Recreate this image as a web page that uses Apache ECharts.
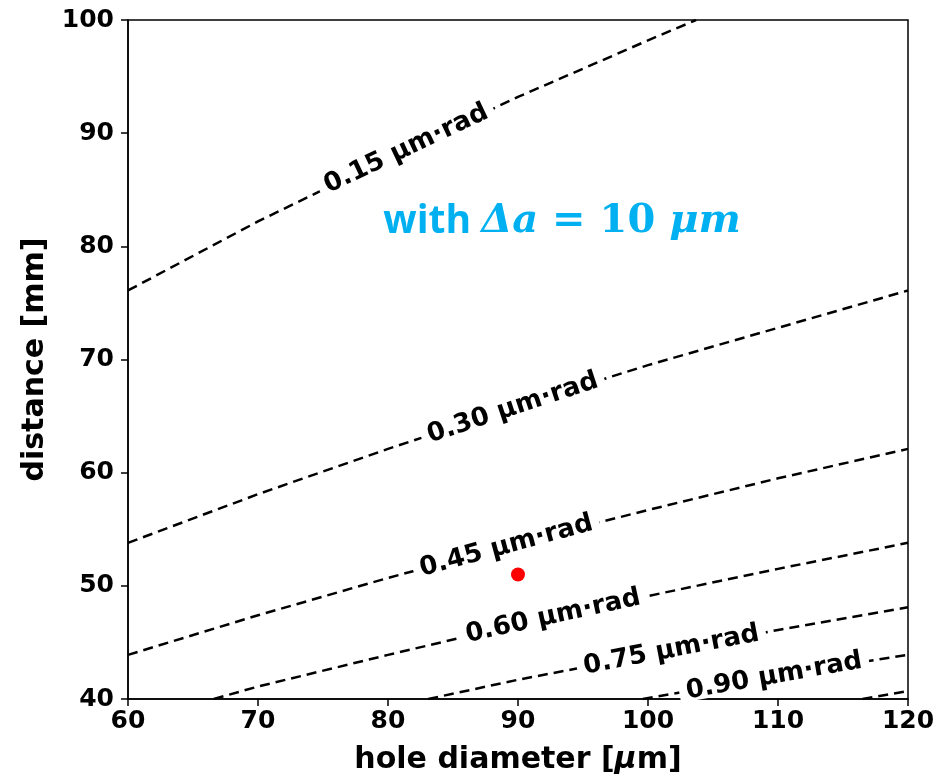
<!DOCTYPE html>
<html>
<head>
<meta charset="utf-8">
<script src="https://cdn.jsdelivr.net/npm/echarts@6/dist/echarts.min.js"></script>
<style>
  html, body { margin: 0; padding: 0; background: #fff; }
  #main { width: 938px; height: 780px; }
</style>
</head>
<body>
<div id="main"></div>
<script>
// contour levels (emittance, µm·rad) and points
const levels = ['0.15', '0.30', '0.45', '0.60', '0.75', '0.90', '1.05'];
const contourHole = [
    [60, 70, 80, 90, 100, 103.7],
    [60, 70, 80, 90, 100, 110, 120],
    [60, 70, 80, 90, 100, 110, 120],
    [66.6, 70, 80, 90, 100, 110, 120],
    [83.1, 90, 100, 110, 120],
    [99.6, 110, 120],
    [116.5, 120]
];
const contourDist = [
    [76.1, 82.2, 87.8, 93.2, 98.2, 100.0],
    [53.8, 58.1, 62.1, 65.9, 69.5, 72.8, 76.1],
    [43.9, 47.4, 50.7, 53.8, 56.7, 59.5, 62.1],
    [40.0, 41.1, 43.9, 46.6, 49.1, 51.5, 53.8],
    [40.0, 41.7, 43.9, 46.1, 48.1],
    [40.0, 42.1, 43.9],
    [40.0, 40.7]
];
// where the inline labels sit
const labelHole = [81.4, 89.6, 89.1, 92.7, 101.8, 109.7];
const labelDist = [88.6, 65.7, 53.5, 47.3, 44.3, 42.0];
// measured point
const pointHole = [90];
const pointDist = [51];

const xTicks = {min: 60, max: 120, interval: 10};
const yTicks = {min: 40, max: 100, interval: 10};

let chart = echarts.init(document.getElementById('main'));

const tickFont = {color: '#000', fontSize: 25, fontWeight: 'bold', fontFamily: 'DejaVu Sans'};
const nameFont = {color: '#000', fontSize: 30, fontWeight: 'bold', fontFamily: 'DejaVu Sans'};

function lineSeries() {
    let list = [];
    for (let i = 0; i < levels.length; i++) {
        list.push({
            name: levels[i],
            type: 'line',
            showSymbol: false,
            silent: true,
            z: 2,
            lineStyle: {color: '#000', width: 2.5, type: [10, 6]},
            data: contourHole[i].map(function (x, j) {
                return [x, contourDist[i][j]];
            })
        });
    }
    return list;
}

function labelData(rot) {
    return labelHole.map(function (x, i) {
        return {
            value: [x, labelDist[i]],
            name: levels[i] + ' \u03bcm\u00b7rad',
            label: {rotate: rot ? rot[i] : 0}
        };
    });
}

chart.setOption({
    animation: false,
    grid: {
        left: 128, right: 30, top: 20, bottom: 77,
        show: true, borderColor: '#000', borderWidth: 1.5
    },
    xAxis: {
        type: 'value',
        min: xTicks.min, max: xTicks.max, interval: xTicks.interval,
        axisLine: {show: true, lineStyle: {color: '#000', width: 1.5}},
        axisTick: {show: true, length: 7, lineStyle: {color: '#000', width: 1.5}},
        splitLine: {show: false},
        axisLabel: Object.assign({margin: 10}, tickFont),
        name: '{n|hole diameter [}{i|\u03bc}{n|m]}',
        nameLocation: 'middle',
        nameGap: 46,
        nameTextStyle: {
            rich: {
                n: nameFont,
                i: Object.assign({}, nameFont, {fontStyle: 'italic'})
            }
        }
    },
    yAxis: {
        type: 'value',
        min: yTicks.min, max: yTicks.max, interval: yTicks.interval,
        axisLine: {show: true, lineStyle: {color: '#000', width: 1.5}},
        axisTick: {show: true, length: 7, lineStyle: {color: '#000', width: 1.5}},
        splitLine: {show: false},
        axisLabel: Object.assign({margin: 14}, tickFont),
        name: 'distance [mm]',
        nameLocation: 'middle',
        nameGap: 78,
        nameTextStyle: nameFont
    },
    graphic: [{
        type: 'text',
        x: 562, y: 222,
        style: {
            text: '{a|with }{b|\u0394a}{c| = 10 }{b|\u03bcm}',
            align: 'center',
            verticalAlign: 'middle',
            rich: {
                a: {fill: '#00b0f0', fontSize: 39, fontWeight: 'bold', fontFamily: 'Open Sans'},
                b: {fill: '#00b0f0', fontSize: 40, fontWeight: 'bold', fontStyle: 'italic', fontFamily: 'DejaVu Serif'},
                c: {fill: '#00b0f0', fontSize: 40, fontWeight: 'bold', fontFamily: 'DejaVu Serif'}
            }
        }
    }],
    series: lineSeries().concat([
        {
            id: 'labels',
            type: 'scatter',
            symbolSize: 1,
            silent: true,
            z: 3,
            itemStyle: {color: '#fff', opacity: 1},
            label: {
                show: true,
                position: 'inside',
                formatter: '{b}',
                color: '#000',
                fontSize: 26,
                lineHeight: 20,
                fontWeight: 'bold',
                fontFamily: 'DejaVu Sans',
                backgroundColor: '#fff',
                padding: [0, 7]
            },
            data: labelData(null)
        },
        {
            name: 'point',
            type: 'scatter',
            symbolSize: 14,
            z: 4,
            itemStyle: {color: '#ff0000', opacity: 1},
            data: pointHole.map(function (x, i) { return [x, pointDist[i]]; })
        }
    ])
});

// label angle follows the local slope of its contour on screen
let rot = labelHole.map(function (hx, i) {
    let xs = contourHole[i], ys = contourDist[i];
    let k = 0;
    while (k < xs.length - 2 && xs[k + 1] < hx) k++;
    let p1 = chart.convertToPixel({gridIndex: 0}, [xs[k], ys[k]]);
    let p2 = chart.convertToPixel({gridIndex: 0}, [xs[k + 1], ys[k + 1]]);
    return -Math.atan2(p2[1] - p1[1], p2[0] - p1[0]) * 180 / Math.PI;
});
chart.setOption({series: [{id: 'labels', data: labelData(rot)}]});
</script>
</body>
</html>
